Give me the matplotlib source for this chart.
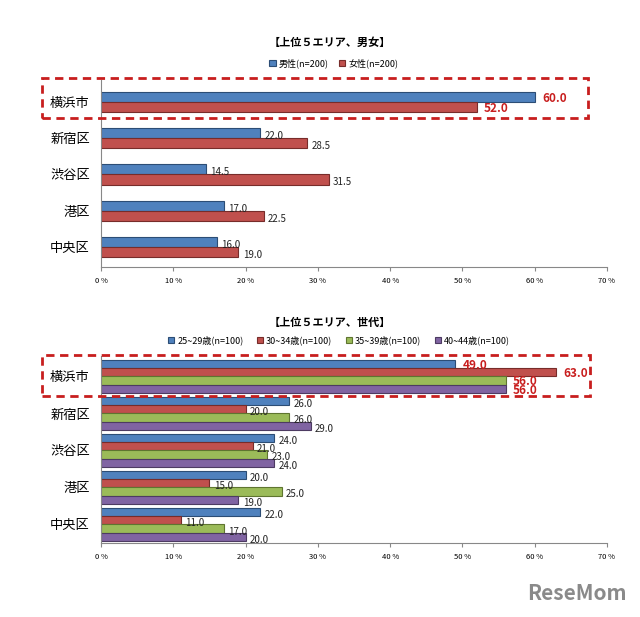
import matplotlib
matplotlib.use("Agg")
import matplotlib.pyplot as plt
from matplotlib.patches import Rectangle

plt.rcParams['font.family'] = ['Noto Sans CJK JP', 'DejaVu Sans']

areas = ['横浜市', '新宿区', '渋谷区', '港区', '中央区']

# top chart: by gender
gender_labels = ['男性(n=200)', '女性(n=200)']
male = [60.0, 22.0, 14.5, 17.0, 16.0]
female = [52.0, 28.5, 31.5, 22.5, 19.0]

# bottom chart: by age group
age_labels = ['25~29歳(n=100)', '30~34歳(n=100)', '35~39歳(n=100)', '40~44歳(n=100)']
age_25 = [49.0, 26.0, 24.0, 20.0, 22.0]
age_30 = [63.0, 20.0, 21.0, 15.0, 11.0]
age_35 = [56.0, 26.0, 23.0, 25.0, 17.0]
age_40 = [56.0, 29.0, 24.0, 19.0, 20.0]

xticks = [0, 10, 20, 30, 40, 50, 60, 70]

colors = ['#4F81BD', '#C0504D', '#9BBB59', '#8064A2']
edges = ['#2C4D75', '#772C2A', '#5F7530', '#4D3B62']
hl_red = '#C81E1E'

W, H = 640, 617
fig = plt.figure(figsize=(6.4, 6.17), dpi=100)


def px_axes(x0, y0, x1, y1):
    return fig.add_axes([x0 / W, 1 - y1 / H, (x1 - x0) / W, (y1 - y0) / H])


def draw(ax, series, labels, bar_h, ylim):
    n = len(series)
    for i, vals in enumerate(series):
        offs = (i - (n - 1) / 2) * bar_h
        ys = [k + offs for k in range(len(areas))]
        ax.barh(ys, vals, height=bar_h, color=colors[i], edgecolor=edges[i],
                linewidth=0.8, label=labels[i])
        for k, (y, v) in enumerate(zip(ys, vals)):
            if k == 0:
                ax.text(v + 1.0, y + 0.04, f'{v:.1f}', fontsize=8.5, fontweight='bold',
                        color=hl_red, va='center', ha='left')
            else:
                ax.text(v + 0.6, y + 0.08, f'{v:.1f}', fontsize=7, color='#222222',
                        va='center', ha='left')
    ax.set_xlim(0, 70)
    ax.set_ylim(*ylim)
    ax.set_yticks(range(len(areas)))
    ax.set_yticklabels(areas, fontsize=9.5)
    ax.set_xticks(xticks)
    ax.set_xticklabels([f'{t} %' for t in xticks], fontsize=5.5)
    for s in ['top', 'right']:
        ax.spines[s].set_visible(False)
    for s in ['left', 'bottom']:
        ax.spines[s].set_color('#888888')
        ax.spines[s].set_linewidth(0.8)
    ax.tick_params(axis='y', length=0, pad=8)
    ax.tick_params(axis='x', length=3, color='#888888', pad=4)


ax1 = px_axes(101, 80, 607, 267)
draw(ax1, [male, female], gender_labels, 0.28, (4.55, -0.6))
ax1.legend(loc='center', bbox_to_anchor=(0.46, 1.09), ncol=2, fontsize=6.5,
           frameon=False, handlelength=0.7, handleheight=0.7, columnspacing=1.2,
           handletextpad=0.3)
fig.text(330 / W, 1 - 42 / H, '【上位５エリア、男女】', fontsize=8, fontweight='bold',
         ha='center', va='center')

ax2 = px_axes(101, 356, 607, 543)
draw(ax2, [age_25, age_30, age_35, age_40], age_labels, 0.22, (4.5, -0.55))
ax2.legend(loc='center', bbox_to_anchor=(0.47, 1.085), ncol=4, fontsize=6.5,
           frameon=False, handlelength=0.7, handleheight=0.7, columnspacing=1.5,
           handletextpad=0.3)
fig.text(330 / W, 1 - 322 / H, '【上位５エリア、世代】', fontsize=8, fontweight='bold',
         ha='center', va='center')

# dashed highlight boxes round 横浜市
for (x0, y0, x1, y1) in [(42, 78, 588, 118), (42, 355, 590, 396)]:
    fig.patches.append(Rectangle((x0 / W, 1 - y1 / H), (x1 - x0) / W, (y1 - y0) / H,
                                 transform=fig.transFigure, fill=False,
                                 edgecolor=hl_red, linewidth=2, linestyle=(0, (3, 2))))

fig.text(577 / W, 1 - 593 / H, 'ReseMom', fontsize=15, fontweight='bold',
         color='#8a8a8a', ha='center', va='center')

fig.savefig('out.png', dpi=100)
